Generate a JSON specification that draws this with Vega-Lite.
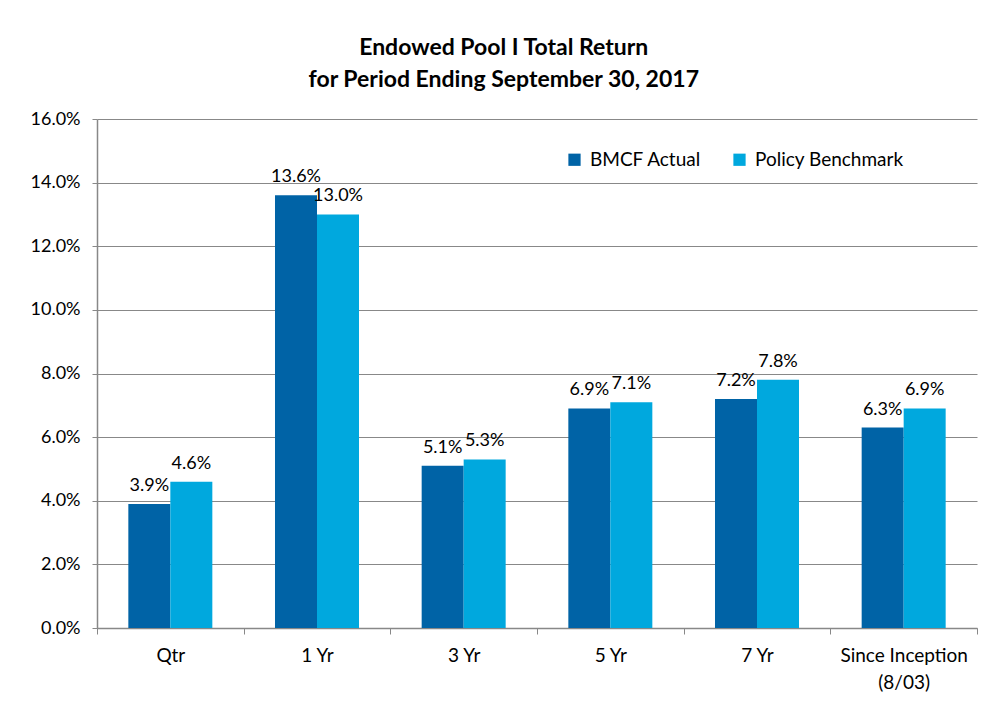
{
  "$schema": "https://vega.github.io/schema/vega-lite/v6.json",
  "width": 880,
  "height": 509,
  "autosize": {"type": "none"},
  "padding": {"left": 97, "top": 119, "right": 23, "bottom": 85},
  "background": "white",
  "config": {
    "font": "Lato",
    "view": {"stroke": null}
  },
  "title": {
    "text": ["Endowed Pool I Total Return", "for Period Ending September 30, 2017"],
    "fontSize": 23,
    "fontWeight": "bold",
    "font": "Lato",
    "color": "#000000",
    "anchor": "middle",
    "frame": "bounds",
    "lineHeight": 32,
    "offset": 18
  },
  "data": {
    "values": [
      {"period": "Qtr", "series": "BMCF Actual", "value": 0.039},
      {"period": "Qtr", "series": "Policy Benchmark", "value": 0.046},
      {"period": "1 Yr", "series": "BMCF Actual", "value": 0.136},
      {"period": "1 Yr", "series": "Policy Benchmark", "value": 0.130},
      {"period": "3 Yr", "series": "BMCF Actual", "value": 0.051},
      {"period": "3 Yr", "series": "Policy Benchmark", "value": 0.053},
      {"period": "5 Yr", "series": "BMCF Actual", "value": 0.069},
      {"period": "5 Yr", "series": "Policy Benchmark", "value": 0.071},
      {"period": "7 Yr", "series": "BMCF Actual", "value": 0.072},
      {"period": "7 Yr", "series": "Policy Benchmark", "value": 0.078},
      {"period": "Since Inception (8/03)", "series": "BMCF Actual", "value": 0.063},
      {"period": "Since Inception (8/03)", "series": "Policy Benchmark", "value": 0.069}
    ]
  },
  "encoding": {
    "x": {
      "field": "period",
      "type": "nominal",
      "sort": null,
      "scale": {"paddingInner": 0, "paddingOuter": 0},
      "axis": {
        "title": null,
        "labelAngle": 0,
        "labelFontSize": 19,
        "labelColor": "#000000",
        "labelPadding": 12,
        "labelLineHeight": 27,
        "tickBand": "extent",
        "tickColor": "#888888",
        "tickSize": 6,
        "domainColor": "#888888",
        "domainWidth": 1.5,
        "grid": false,
        "labelExpr": "datum.value == 'Since Inception (8/03)' ? ['Since Inception', '(8/03)'] : datum.value"
      }
    },
    "xOffset": {
      "field": "series",
      "type": "nominal",
      "scale": {"paddingInner": 0, "paddingOuter": 0.746}
    },
    "y": {
      "field": "value",
      "type": "quantitative",
      "scale": {"domain": [0, 0.16], "nice": false},
      "axis": {
        "title": null,
        "format": ".1%",
        "values": [0, 0.02, 0.04, 0.06, 0.08, 0.1, 0.12, 0.14, 0.16],
        "labelFontSize": 18,
        "labelColor": "#000000",
        "labelPadding": 12,
        "tickColor": "#888888",
        "tickSize": 5,
        "domainColor": "#888888",
        "domainWidth": 1.5,
        "gridColor": "#888888",
        "gridWidth": 1
      }
    }
  },
  "layer": [
    {
      "mark": {"type": "bar"},
      "encoding": {
        "color": {
          "field": "series",
          "type": "nominal",
          "scale": {"domain": ["BMCF Actual", "Policy Benchmark"], "range": ["#0063A6", "#00A8DE"]},
          "legend": {
            "title": null,
            "orient": "none",
            "legendX": 468,
            "legendY": 31,
            "direction": "horizontal",
            "columns": 2,
            "symbolType": "square",
            "symbolSize": 150,
            "symbolStrokeWidth": 0,
            "labelFontSize": 19,
            "labelColor": "#000000",
            "labelOffset": 6,
            "columnPadding": 28
          }
        }
      }
    },
    {
      "mark": {"type": "text", "baseline": "bottom", "dy": -9, "fontSize": 18, "color": "#000000"},
      "encoding": {
        "text": {"field": "value", "type": "quantitative", "format": ".1%"}
      }
    }
  ]
}
